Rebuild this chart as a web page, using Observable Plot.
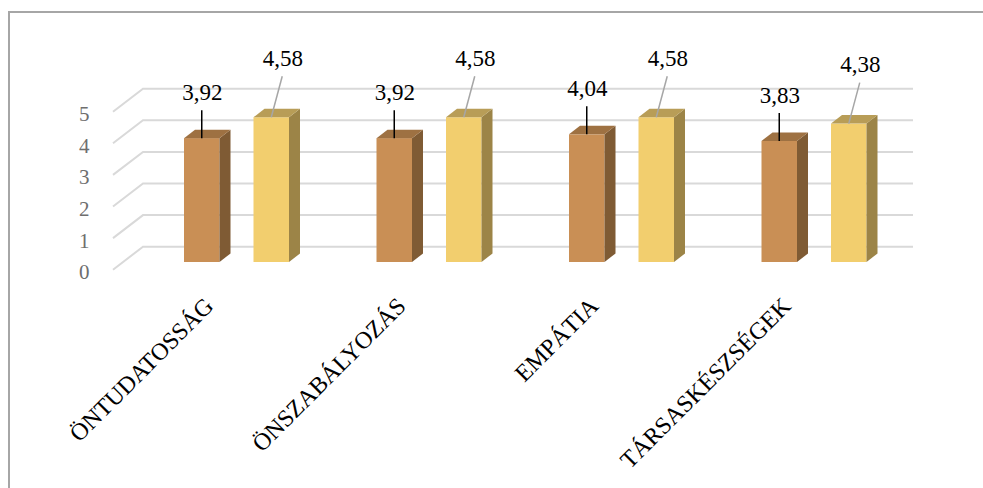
<!DOCTYPE html>
<html><head><meta charset="utf-8">
<script src="https://cdn.jsdelivr.net/npm/d3@7"></script>
<script src="https://cdn.jsdelivr.net/npm/@observablehq/plot@0.6"></script>
<style>
body{margin:0;background:#fff;}
#wrap{position:relative;width:983px;height:488px;overflow:hidden;}
#frame{position:absolute;left:8px;top:11px;right:-10px;bottom:-10px;border-left:2px solid #a6a6a6;border-top:2px solid #a6a6a6;}
#chart svg{position:absolute;left:0;top:0;}
</style></head><body><div id="wrap"><div id="frame"></div><div id="chart"></div></div>
<script>
const categories = ["ÖNTUDATOSSÁG", "ÖNSZABÁLYOZÁS", "EMPÁTIA", "TÁRSASKÉSZSÉGEK"];
const series1 = [3.92, 3.92, 4.04, 3.83];
const series2 = [4.58, 4.58, 4.58, 4.38];
const yTicks = [0, 1, 2, 3, 4, 5];

const rows = categories.map((c, i) => ({cat: c, v1: series1[i], v2: series2[i]}));
const fmt = v => v.toFixed(2).replace(".", ",");

const BAR_W = 35.5, DEPTH_X = 11, DEPTH_Y = -8.5;
const S1 = {inset: 41, front: "#C98F55", side: "#7F5B34", top: "#9E7142"};
const S2 = {inset: 110.5, front: "#F2CE6E", side: "#9C8447", top: "#B89D57"};

function gridMark(index, scales) {
  const g = d3.create("svg:g");
  const xa = scales.x(categories[0]);
  const xb = scales.x(categories[categories.length - 1]) + scales.x.bandwidth();
  for (const t of yTicks) {
    const yf = scales.y(t);
    g.append("polyline")
      .attr("points", `${xa - 30},${yf + 7.7} ${xa},${yf - 15.3} ${xb},${yf - 15.3}`)
      .attr("fill", "none").attr("stroke", "#d9d9d9").attr("stroke-width", 2);
  }
  return g.node();
}

function facesMark(key, s) {
  return (index, scales) => {
    const g = d3.create("svg:g");
    rows.forEach(d => {
      const x0 = scales.x(d.cat) + s.inset, x1 = x0 + BAR_W;
      const yb = scales.y(0), yt = scales.y(d[key]);
      g.append("polygon").attr("fill", s.side)
        .attr("points", [[x1, yb], [x1, yt], [x1 + DEPTH_X, yt + DEPTH_Y], [x1 + DEPTH_X, yb + DEPTH_Y]].join(" "));
      g.append("polygon").attr("fill", s.top)
        .attr("points", [[x0, yt], [x1, yt], [x1 + DEPTH_X, yt + DEPTH_Y], [x0 + DEPTH_X, yt + DEPTH_Y]].join(" "));
    });
    return g.node();
  };
}

function leaderMark(key, s, ldx, ldy, color) {
  return (index, scales) => {
    const g = d3.create("svg:g");
    rows.forEach(d => {
      const cx = scales.x(d.cat) + s.inset + BAR_W / 2;
      const yt = scales.y(d[key]);
      g.append("line").attr("x1", cx).attr("y1", yt).attr("x2", cx + ldx).attr("y2", yt + ldy)
        .attr("stroke", color).attr("stroke-width", 1.5);
    });
    return g.node();
  };
}

const halfBand = 192.5 / 2;
const FONT = "Liberation Serif, Times New Roman, serif";

const chart = Plot.plot({
  width: 983, height: 488,
  marginTop: 0, marginRight: 0, marginBottom: 0, marginLeft: 0,
  style: {background: "transparent", fontFamily: FONT},
  x: {type: "band", domain: categories, range: [143, 913], paddingInner: 0, paddingOuter: 0, round: false, axis: null},
  y: {domain: [0, 5], range: [262, 104], axis: null},
  marks: [
    gridMark,
    Plot.text(yTicks, {x: null, y: d => d, frameAnchor: "left", textAnchor: "end", dx: 89, dy: 10,
      text: d => String(d), fontSize: 21, fill: "#6e6e6e", fontFamily: FONT}),
    Plot.barY(rows, {x: "cat", y: "v1", fill: S1.front, insetLeft: S1.inset, insetRight: 192.5 - S1.inset - BAR_W}),
    Plot.barY(rows, {x: "cat", y: "v2", fill: S2.front, insetLeft: S2.inset, insetRight: 192.5 - S2.inset - BAR_W}),
    facesMark("v1", S1),
    facesMark("v2", S2),
    leaderMark("v1", S1, 0, -28, "#000000"),
    leaderMark("v2", S2, 11, -41, "#a6a6a6"),
    Plot.text(rows, {x: "cat", y: "v1", text: d => fmt(d.v1), dx: S1.inset + BAR_W / 2 - halfBand, dy: -46,
      fontSize: 23, fill: "#000", fontFamily: FONT}),
    Plot.text(rows, {x: "cat", y: "v2", text: d => fmt(d.v2), dx: S2.inset + BAR_W / 2 - halfBand + 11, dy: -59,
      fontSize: 23, fill: "#000", fontFamily: FONT}),
    Plot.text(categories, {x: d => d, frameAnchor: "top", dy: 295, dx: -37, rotate: -45, textAnchor: "end",
      fontSize: 24, fill: "#000", fontFamily: FONT})
  ]
});
document.getElementById("chart").appendChild(chart);
</script>
</body></html>
